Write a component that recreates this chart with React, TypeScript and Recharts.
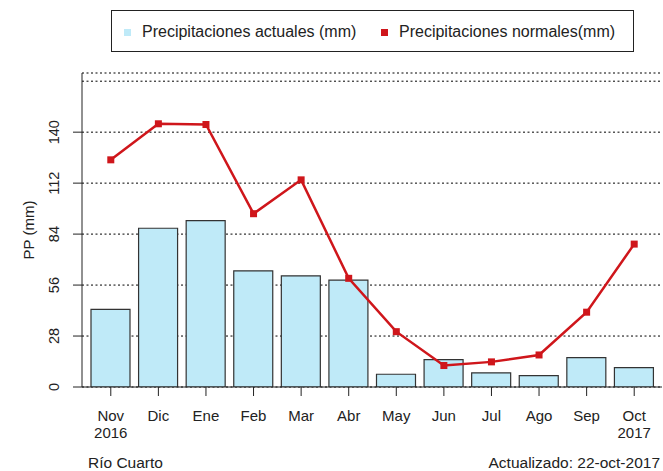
import React from 'react'
import { Bar, CartesianGrid, ComposedChart, Line, ReferenceLine, XAxis, YAxis } from 'recharts'

// monthly rainfall, Río Cuarto, nov 2016 - oct 2017
const months = ['Nov', 'Dic', 'Ene', 'Feb', 'Mar', 'Abr', 'May', 'Jun', 'Jul', 'Ago', 'Sep', 'Oct']
const years = ['2016', '', '', '', '', '', '', '', '', '', '', '2017']
const actual = [42.6, 87.2, 91.4, 63.8, 61.1, 58.7, 7.0, 15.0, 7.8, 6.2, 16.1, 10.6]
const normal = [124.8, 144.6, 144.2, 95.2, 113.8, 59.7, 30.4, 11.8, 13.8, 17.6, 41.1, 78.5]
const yTicks = [0, 28, 56, 84, 112, 140]
const topGrid = 168
const yMax = 172.5

const FONT = '"Liberation Sans", Arial, sans-serif'
const BLUE = '#bfeaf8'
const RED = '#cf161b'

const data = months.map((m, i) => ({ month: m, year: years[i], actual: actual[i], normal: normal[i] }))

function MonthTick({ x, y, payload, index }: any) {
  const yr = years[index ?? months.indexOf(payload.value)]
  return (
    <g>
      <text x={x} y={y + 23} textAnchor="middle" fontSize={15} fill="#222" fontFamily={FONT}>
        {payload.value}
      </text>
      {yr ? (
        <text x={x} y={y + 40} textAnchor="middle" fontSize={15} fill="#222" fontFamily={FONT}>
          {yr}
        </text>
      ) : null}
    </g>
  )
}

// R draws y labels parallel to the axis, reading upward
function ValueTick({ y, payload }: any) {
  return (
    <text
      x={59}
      y={y}
      transform={`rotate(-90, 59, ${y})`}
      textAnchor="middle"
      fontSize={14.5}
      fill="#222"
      fontFamily={FONT}
    >
      {payload.value}
    </text>
  )
}

function SquareDot({ cx, cy }: any) {
  if (cx == null || cy == null) return null
  return <rect x={cx - 3.5} y={cy - 3.5} width={7} height={7} fill={RED} />
}

export default function App() {
  return (
    <div
      style={{
        position: 'absolute',
        left: 0,
        top: 0,
        width: 663,
        height: 471,
        background: '#fff',
        fontFamily: FONT,
        color: '#222',
      }}
    >
      <ComposedChart width={663} height={471} data={data} margin={{ top: 73, right: 1, bottom: 0, left: 0 }}>
        <CartesianGrid vertical={false} stroke="#000" strokeDasharray="2 2.5" />
        <XAxis
          dataKey="month"
          height={84}
          padding={{ left: 5, right: 4 }}
          interval={0}
          tick={<MonthTick />}
          tickSize={9}
          tickLine={{ stroke: '#222' }}
          axisLine={{ stroke: '#222' }}
        />
        <XAxis
          xAxisId="top"
          orientation="top"
          dataKey="month"
          height={0}
          tick={false}
          tickLine={false}
          axisLine={{ stroke: '#222' }}
        />
        <YAxis
          width={82}
          domain={[0, yMax]}
          ticks={yTicks}
          interval={0}
          allowDataOverflow
          tick={<ValueTick />}
          tickSize={9}
          tickLine={{ stroke: '#222' }}
          axisLine={{ stroke: '#222' }}
        />
        <YAxis
          yAxisId="r"
          orientation="right"
          width={0}
          domain={[0, yMax]}
          tick={false}
          tickLine={false}
          axisLine={{ stroke: '#222' }}
        />
        <ReferenceLine y={topGrid} stroke="#000" strokeDasharray="2 2.5" />
        <Bar dataKey="actual" fill={BLUE} stroke="#333" strokeWidth={1.2} barSize={39} isAnimationActive={false} />
        <Line
          dataKey="normal"
          stroke={RED}
          strokeWidth={2.5}
          dot={<SquareDot />}
          activeDot={false}
          isAnimationActive={false}
        />
      </ComposedChart>

      <div
        style={{
          position: 'absolute',
          left: 28,
          top: 230,
          transform: 'translate(-50%, -50%) rotate(-90deg)',
          fontSize: 15,
          whiteSpace: 'nowrap',
          lineHeight: 1,
        }}
      >
        PP (mm)
      </div>

      <div
        style={{
          position: 'absolute',
          left: 111,
          top: 10,
          width: 521,
          height: 40,
          border: '1px solid #222',
          fontSize: 16,
        }}
      >
        <span style={{ position: 'absolute', left: 12, top: 18, width: 7, height: 7, background: BLUE }} />
        <span style={{ position: 'absolute', left: 30, top: 13, lineHeight: 1 }}>Precipitaciones actuales (mm)</span>
        <span style={{ position: 'absolute', left: 269, top: 18, width: 7, height: 7, background: RED }} />
        <span style={{ position: 'absolute', left: 287, top: 13, lineHeight: 1 }}>Precipitaciones normales(mm)</span>
      </div>

      <div style={{ position: 'absolute', left: 88, top: 455, fontSize: 15.5, lineHeight: 1 }}>Río Cuarto</div>
      <div style={{ position: 'absolute', right: 3, top: 455, fontSize: 15.5, lineHeight: 1 }}>Actualizado: 22-oct-2017</div>
    </div>
  )
}
